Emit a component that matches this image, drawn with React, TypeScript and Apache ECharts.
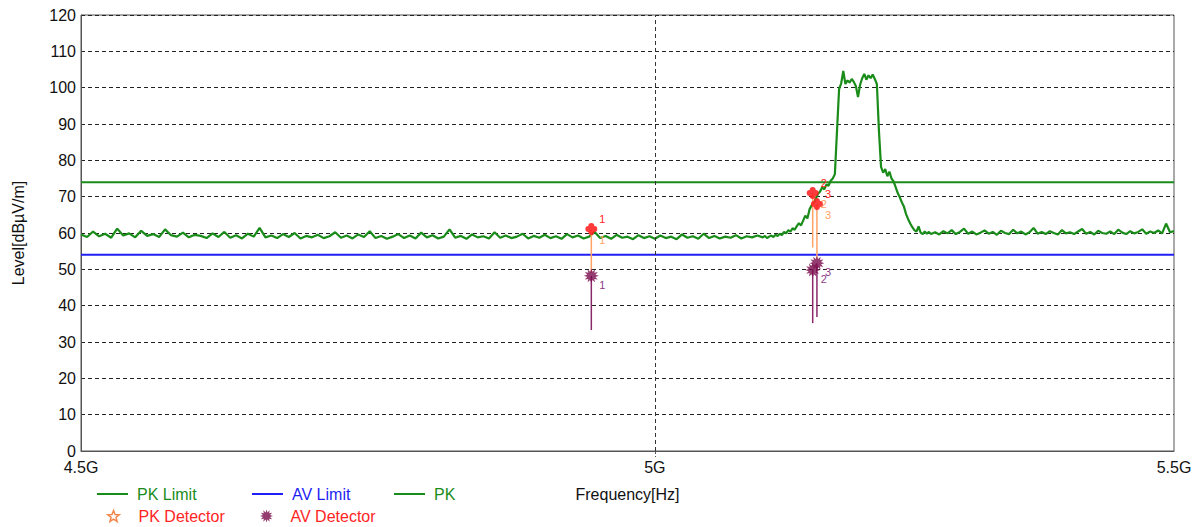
import React, { useEffect, useRef } from "react";
import * as echarts from "echarts";

// Frequency axis (MHz), drawn on a logarithmic scale
const freqMinMHz = 4500;
const freqMaxMHz = 5500;
const xTickMHz = [4500, 5000, 5500];
const xTickLabels = ["4.5G", "5G", "5.5G"];
const gridLineMHz = 5000;

// Level axis (dBµV/m)
const levelMin = 0;
const levelMax = 120;
const levelStep = 10;

// Limits
const pkLimit = 74;
const avLimit = 54;

// PK trace, sweep 1: from 4500 MHz in 5 MHz steps
const sweep1StartMHz = 4500;
const sweep1StepMHz = 5;
const sweep1Level = [
  59.6, 58.9, 60.4, 59.1, 59.8, 58.7, 61.2, 59.3, 59.9, 58.8, 60.6, 59.2, 59.7, 58.9, 61.0, 59.4, 59.0, 60.1, 58.8, 59.5,
  59.2, 58.6, 59.9, 58.9, 60.3, 58.7, 59.4, 58.5, 59.8, 59.0, 61.4, 58.8, 59.3, 58.6, 59.7, 58.9, 60.0, 58.5, 59.2, 58.8,
  59.5, 58.6, 59.1, 60.2, 58.7, 59.3, 58.5, 59.6, 58.9, 60.5, 58.6, 59.2, 58.4, 59.0, 59.7, 58.6, 59.3, 58.5, 60.1, 58.8,
  59.4, 58.5, 59.0, 61.0, 58.7, 59.2, 58.4, 59.6, 58.8, 59.1, 58.5, 60.2, 58.7, 59.3, 58.6, 59.0, 59.8, 58.5, 59.2, 58.7,
  59.5, 58.6, 59.1, 58.4, 59.7, 58.8, 59.3, 58.5, 59.0, 60.3, 58.6, 59.2, 58.4, 59.5, 58.7, 59.0, 58.3, 59.4, 58.6, 59.1,
  58.4, 59.3, 58.6, 59.0, 58.3, 59.6, 58.7, 59.1, 58.4, 59.8, 58.6, 59.2, 58.5, 59.0, 58.7, 59.4, 58.5, 59.1, 58.8, 59.3,
];

// PK trace, sweep 2 (emission band): from 5100 MHz in 2 MHz steps
const sweep2StartMHz = 5100;
const sweep2StepMHz = 2;
const sweep2Level = [
  58.8, 59.2, 58.6, 59.0, 59.3, 58.9, 59.5, 59.2, 59.8, 59.4,
  60.3, 59.9, 60.8, 60.4, 61.3, 60.9, 61.9, 62.7, 62.1, 63.4,
  64.8, 64.0, 66.5, 67.6, 68.4, 69.5, 70.8, 71.4, 72.6, 72.0,
  73.4, 73.0, 74.4, 75.0, 76.2, 88.0, 99.6, 101.2, 104.6, 101.0,
  102.0, 101.4, 102.4, 101.6, 100.4, 97.4, 100.8, 102.6, 103.8, 102.2,
  103.4, 102.6, 103.6, 102.4, 101.0, 88.0, 78.2, 76.6, 77.6, 75.6,
  76.9, 75.0, 74.2, 72.6, 71.0, 69.8, 68.4, 67.2, 65.2, 63.8,
  62.6, 61.6, 60.8, 60.4, 61.8, 60.1, 59.7, 60.4, 59.8, 60.3,
  59.7,
];

// PK trace, sweep 3: from 5264 MHz in 4 MHz steps
const sweep3StartMHz = 5264;
const sweep3StepMHz = 4;
const sweep3Level = [
  60.2, 59.6, 60.5, 59.9, 60.8, 59.7, 60.3, 61.2, 59.8, 60.4,
  59.6, 60.1, 60.7, 59.8, 60.3, 59.5, 60.6, 60.0, 59.7, 60.9,
  59.9, 60.4, 59.6, 60.2, 61.4, 59.8, 60.3, 59.7, 60.5, 60.0,
  59.6, 60.8, 59.9, 60.2, 59.7, 60.4, 61.1, 59.8, 60.3, 59.6,
  60.6, 60.0, 59.8, 60.4, 59.7, 60.9, 60.1, 59.7, 60.5, 59.9,
  60.3, 61.0, 59.8, 60.4, 60.0, 60.7, 59.9, 62.6, 60.2, 60.5,
];

// Final detector measurements
const markerNo = [1, 2, 3];
const markerMHz = [4942, 5147, 5151];
const pkDetector = [61.1, 71.0, 68.0];
const pkStemEnd = [49.0, 56.0, 53.0];
const avDetector = [48.2, 49.8, 51.7];
const avStemEnd = [33.3, 35.2, 36.9];

const FONT = "'Liberation Sans', Arial, Helvetica, sans-serif";
const GREEN = "#1a8c1a";
const BLUE = "#1f1ff5";
const RED = "#ff2525";
const ORANGE = "#ffa266";
const PURPLE = "#7a0c4c";
const AXIS = "#555555";

// Log-frequency coordinate, scaled so that axis value rounding stays sub-pixel
const lx = (mhz: number) => Math.log10(mhz) * 10000;

const sweepPoints = (start: number, step: number, levels: number[]) =>
  levels.map((v, i) => [lx(start + i * step), v]);

// Star-shaped symbol with n points
function starPath(n: number, ro: number, ri: number): string {
  let d = "";
  for (let i = 0; i < 2 * n; i++) {
    const r = i % 2 ? ri : ro;
    const a = -Math.PI / 2 + (i * Math.PI) / n;
    const x = ro + r * Math.cos(a);
    const y = ro + r * Math.sin(a);
    d += (i ? "L" : "M") + x.toFixed(2) + "," + y.toFixed(2);
  }
  return "path://" + d + "Z";
}

// Four overlapping discs
function flowerPath(): string {
  const c = [
    [6, 3],
    [6, 9],
    [3, 6],
    [9, 6],
  ];
  return (
    "path://" +
    c.map(([cx, cy]) => `M${cx - 3},${cy}a3,3 0 1,0 6,0a3,3 0 1,0 -6,0`).join("")
  );
}

const LINE_ICON = "path://M0,0H31V2H0Z";

export default function App() {
  const ref = useRef<HTMLDivElement>(null);

  useEffect(() => {
    if (!ref.current) return;
    const chart = echarts.init(ref.current, undefined, { renderer: "svg" });

    const trace = [
      ...sweepPoints(sweep1StartMHz, sweep1StepMHz, sweep1Level),
      ...sweepPoints(sweep2StartMHz, sweep2StepMHz, sweep2Level),
      ...sweepPoints(sweep3StartMHz, sweep3StepMHz, sweep3Level),
    ];
    const xMin = lx(freqMinMHz);
    const xMax = lx(freqMaxMHz);

    const pkPoints = markerMHz.map((f, i) => [lx(f), pkDetector[i]]);
    const avPoints = markerMHz.map((f, i) => [lx(f), avDetector[i]]);
    const pkStems = markerMHz.map((f, i) => [lx(f), pkDetector[i], pkStemEnd[i], markerNo[i]]);
    const avStems = markerMHz.map((f, i) => [lx(f), avDetector[i], avStemEnd[i], markerNo[i]]);

    const legendBase = {
      orient: "horizontal",
      itemWidth: 31,
      itemHeight: 2,
      padding: 0,
      selectedMode: false,
      textStyle: { fontSize: 16, fontFamily: FONT, padding: [0, 0, 0, 4] },
    };

    const labelFont = `11px ${FONT}`;

    const option: any = {
      animation: false,
      backgroundColor: "#ffffff",
      textStyle: { fontFamily: FONT },
      grid: {
        left: 81,
        right: 26,
        top: 15,
        bottom: 76,
        show: true,
        borderColor: AXIS,
        borderWidth: 1,
      },
      legend: [
        {
          ...legendBase,
          left: 97,
          top: 486,
          data: [{ name: "PK Limit", icon: LINE_ICON, textStyle: { color: GREEN } }],
        },
        {
          ...legendBase,
          left: 252,
          top: 486,
          data: [{ name: "AV Limit", icon: LINE_ICON, textStyle: { color: BLUE } }],
        },
        {
          ...legendBase,
          left: 394,
          top: 486,
          data: [{ name: "PK", icon: LINE_ICON, textStyle: { color: GREEN } }],
        },
        {
          ...legendBase,
          left: 107,
          top: 508,
          itemWidth: 12,
          itemHeight: 11,
          textStyle: { fontSize: 16, fontFamily: FONT, padding: [0, 0, 0, 14] },
          data: [
            {
              name: "PK Detector",
              icon: starPath(5, 6, 2.6),
              itemStyle: { color: "#ffffff", borderColor: "#f07a3a", borderWidth: 1.5 },
              textStyle: { color: RED },
            },
          ],
        },
        {
          ...legendBase,
          left: 260,
          top: 508,
          itemWidth: 14,
          itemHeight: 13,
          textStyle: { fontSize: 16, fontFamily: FONT, padding: [0, 0, 0, 12] },
          data: [
            {
              name: "AV Detector",
              icon: starPath(12, 7, 4),
              itemStyle: { color: PURPLE },
              textStyle: { color: RED },
            },
          ],
        },
      ],
      xAxis: {
        type: "value",
        min: xMin,
        max: xMax,
        name: "Frequency[Hz]",
        nameLocation: "middle",
        nameGap: 35,
        nameTextStyle: { fontSize: 16, color: "#111", fontFamily: FONT },
        axisLine: { show: true, lineStyle: { color: AXIS, width: 1 } },
        axisTick: {
          show: true,
          customValues: [lx(gridLineMHz)],
          length: 6,
          lineStyle: { color: AXIS, type: [3, 2] },
        },
        axisLabel: {
          customValues: xTickMHz.map(lx),
          fontSize: 16,
          color: "#111",
          margin: 8,
          fontFamily: FONT,
          formatter: (v: number) => {
            let best = 0;
            xTickMHz.forEach((f, i) => {
              if (Math.abs(lx(f) - v) < Math.abs(lx(xTickMHz[best]) - v)) best = i;
            });
            return xTickLabels[best];
          },
        },
        splitLine: { show: false },
      },
      yAxis: {
        type: "value",
        min: levelMin,
        max: levelMax,
        interval: levelStep,
        name: "Level[dBµV/m]",
        nameLocation: "middle",
        nameGap: 55,
        nameTextStyle: { fontSize: 16, color: "#111", fontFamily: FONT },
        axisLine: { show: true, lineStyle: { color: AXIS, width: 1 } },
        axisTick: { show: false },
        axisLabel: { fontSize: 16, color: "#111", margin: 5, fontFamily: FONT },
        splitLine: { show: true, lineStyle: { color: "#222", width: 1, type: [4, 3] } },
      },
      series: [
        {
          name: "PK Limit",
          type: "line",
          symbol: "none",
          data: [
            [xMin, pkLimit],
            [xMax, pkLimit],
          ],
          lineStyle: { color: GREEN, width: 2 },
          itemStyle: { color: GREEN },
          z: 2,
          markLine: {
            silent: true,
            symbol: ["none", "none"],
            label: { show: false },
            lineStyle: { color: "#333", width: 1, type: [4, 3] },
            data: [{ xAxis: lx(gridLineMHz) }],
          },
        },
        {
          name: "AV Limit",
          type: "line",
          symbol: "none",
          data: [
            [xMin, avLimit],
            [xMax, avLimit],
          ],
          lineStyle: { color: BLUE, width: 2 },
          itemStyle: { color: BLUE },
          z: 2,
        },
        {
          name: "PK",
          type: "line",
          symbol: "none",
          data: trace,
          lineStyle: { color: GREEN, width: 2.2 },
          itemStyle: { color: GREEN },
          z: 3,
        },
        {
          name: "PK stems",
          type: "custom",
          data: pkStems,
          z: 4,
          renderItem: (_p: any, api: any) => {
            const top = api.coord([api.value(0), api.value(1)]);
            const bot = api.coord([api.value(0), api.value(2)]);
            const no = String(api.value(3));
            return {
              type: "group",
              children: [
                {
                  type: "line",
                  shape: { x1: top[0], y1: top[1], x2: bot[0], y2: bot[1] },
                  style: { stroke: ORANGE, lineWidth: 1.5 },
                },
                {
                  type: "text",
                  x: top[0] + 8,
                  y: top[1] - 10,
                  style: { text: no, fill: RED, font: labelFont, align: "left", verticalAlign: "middle" },
                },
                {
                  type: "text",
                  x: top[0] + 8,
                  y: top[1] + 11,
                  style: { text: no, fill: ORANGE, font: labelFont, align: "left", verticalAlign: "middle" },
                },
              ],
            };
          },
        },
        {
          name: "AV stems",
          type: "custom",
          data: avStems,
          z: 4,
          renderItem: (_p: any, api: any) => {
            const top = api.coord([api.value(0), api.value(1)]);
            const bot = api.coord([api.value(0), api.value(2)]);
            const no = String(api.value(3));
            return {
              type: "group",
              children: [
                {
                  type: "line",
                  shape: { x1: top[0], y1: top[1], x2: bot[0], y2: bot[1] },
                  style: { stroke: "#8a2a6a", lineWidth: 1.5 },
                },
                {
                  type: "text",
                  x: top[0] + 8,
                  y: top[1] + 9,
                  style: { text: no, fill: "#8a3a8a", font: labelFont, align: "left", verticalAlign: "middle" },
                },
              ],
            };
          },
        },
        {
          name: "PK Detector",
          type: "scatter",
          data: pkPoints,
          symbol: flowerPath(),
          symbolSize: 12,
          itemStyle: { color: RED, opacity: 0.9 },
          z: 5,
        },
        {
          name: "AV Detector",
          type: "scatter",
          data: avPoints,
          symbol: starPath(12, 7, 4),
          symbolSize: 15,
          itemStyle: { color: PURPLE },
          z: 5,
        },
      ],
    };

    chart.setOption(option);
    return () => chart.dispose();
  }, []);

  return (
    <div
      ref={ref}
      style={{ position: "fixed", left: 0, top: 0, width: 1200, height: 527, background: "#fff" }}
    />
  );
}
